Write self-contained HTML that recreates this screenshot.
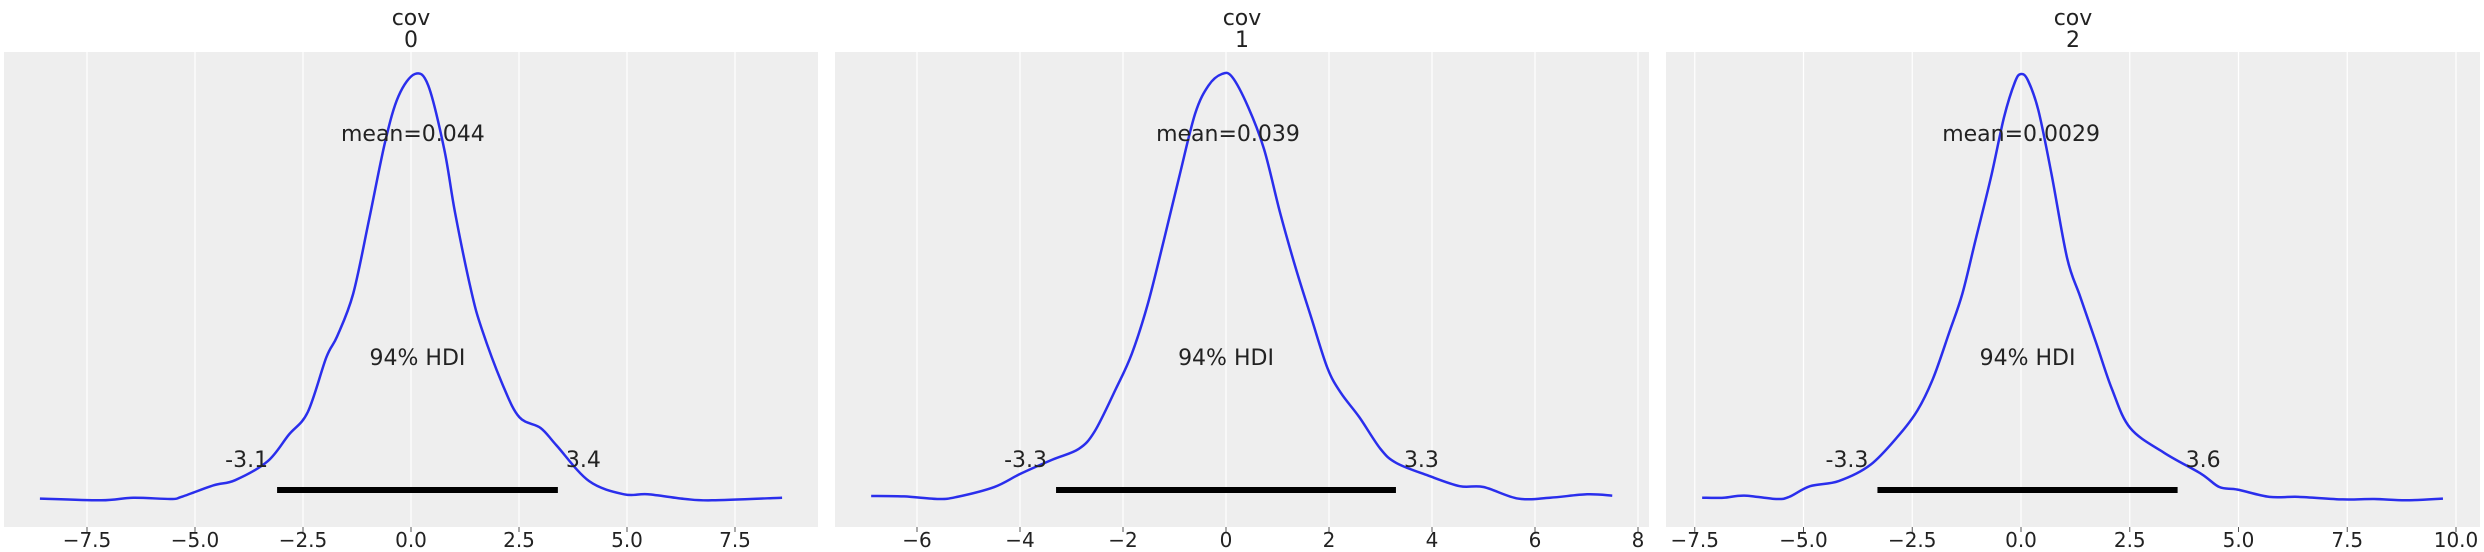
<!DOCTYPE html>
<html><head><meta charset="utf-8">
<style>
html,body{margin:0;padding:0;background:#fff;}
svg{display:block;font-family:"DejaVu Sans","Liberation Sans",sans-serif;}
</style></head>
<body>
<svg id="chart" width="2484" height="552" viewBox="0 0 2484 552" xmlns="http://www.w3.org/2000/svg"></svg>
<script>
// Panel 0 data
const p0X = [-8.59,-7.17,-6.43,-5.56,-5.31,-4.57,-4.07,-3.32,-2.83,-2.39,-1.96,-1.71,-1.34,-0.97,-0.60,-0.29,0.09,0.40,0.77,1.02,1.39,1.64,2.13,2.51,3.00,3.37,4.12,4.93,5.48,6.35,6.97,8.59];
const p0D = [0.008,0.004,0.010,0.007,0.012,0.039,0.051,0.095,0.157,0.210,0.338,0.387,0.486,0.660,0.841,0.948,1.0,0.973,0.824,0.676,0.495,0.404,0.272,0.198,0.173,0.132,0.049,0.018,0.018,0.007,0.004,0.010];
// Panel 1 data
const p1X = [-6.89,-6.25,-5.58,-5.22,-4.50,-3.99,-3.37,-2.86,-2.55,-2.14,-1.83,-1.52,-1.21,-0.91,-0.60,-0.34,-0.08,0.12,0.43,0.74,1.05,1.36,1.66,1.97,2.23,2.59,3.00,3.31,3.92,4.54,5.00,5.67,6.29,7.01,7.50];
const p1D = [0.014,0.013,0.007,0.012,0.035,0.066,0.099,0.124,0.165,0.264,0.346,0.462,0.610,0.759,0.907,0.973,1.0,0.993,0.923,0.824,0.676,0.544,0.429,0.313,0.255,0.198,0.124,0.091,0.062,0.037,0.035,0.008,0.010,0.018,0.015];
// Panel 2 data
const p2X = [-7.33,-6.84,-6.36,-5.63,-5.33,-4.85,-4.19,-3.46,-2.80,-2.38,-2.02,-1.65,-1.35,-1.05,-0.69,-0.39,-0.14,0,0.16,0.40,0.70,1.06,1.36,1.73,2.09,2.51,3.29,4.14,4.56,4.98,5.71,6.38,7.40,8.12,8.85,9.70];
const p2D = [0.010,0.010,0.015,0.007,0.012,0.037,0.049,0.087,0.157,0.214,0.289,0.396,0.486,0.610,0.759,0.899,0.981,1.0,0.985,0.915,0.767,0.570,0.480,0.371,0.264,0.173,0.115,0.066,0.035,0.029,0.012,0.012,0.006,0.007,0.004,0.008];
const titles = ["0","1","2"];
const means = [0.044, 0.039, 0.0029];
const meanLabels = ["mean=0.044","mean=0.039","mean=0.0029"];
const hdiLo = [-3.1, -3.3, -3.3];
const hdiHi = [3.4, 3.3, 3.6];
const ticks0 = [-7.5,-5.0,-2.5,0.0,2.5,5.0,7.5];
const ticks1 = [-6,-4,-2,0,2,4,6,8];
const ticks2 = [-7.5,-5.0,-2.5,0.0,2.5,5.0,7.5,10.0];
const tickLabels0 = ["\u22127.5","\u22125.0","\u22122.5","0.0","2.5","5.0","7.5"];
const tickLabels1 = ["\u22126","\u22124","\u22122","0","2","4","6","8"];
const tickLabels2 = ["\u22127.5","\u22125.0","\u22122.5","0.0","2.5","5.0","7.5","10.0"];

const NS = "http://www.w3.org/2000/svg";
const svgEl = document.getElementById("chart");
function mk(tag, attrs, parent){
  const e = document.createElementNS(NS, tag);
  for (const k in attrs) e.setAttribute(k, attrs[k]);
  (parent||svgEl).appendChild(e);
  return e;
}
const panels = [
  {left:4, right:818, zero:411, ppu:43.2, xs:p0X, ds:p0D, ticks:ticks0, tl:tickLabels0},
  {left:835, right:1649, zero:1226, ppu:51.5, xs:p1X, ds:p1D, ticks:ticks1, tl:tickLabels1},
  {left:1666, right:2480, zero:2021, ppu:43.5, xs:p2X, ds:p2D, ticks:ticks2, tl:tickLabels2}
];
const plotTop = 52, plotBottom = 527, yZero = 502, yScale = 428, barY = 490;
panels.forEach((p, i) => {
  const xScale = v => p.zero + v * p.ppu;
  const yAxis = d => yZero - d * yScale;
  const g = mk("g", {});
  
  
  const bg = mk("rect", {x:p.left, y:plotTop, width:p.right-p.left, height:plotBottom-plotTop, fill:"#eeeeee"}, g);
  
  
  p.ticks.forEach((t, j) => {
    const x = xScale(t);
    const gl = mk("line", {x1:x, x2:x, y1:plotTop, y2:plotBottom, stroke:"#ffffff", "stroke-width":1.2}, g);
    
    
    const tm = mk("line", {x1:x, x2:x, y1:plotBottom, y2:plotBottom+5, stroke:"#555", "stroke-width":1}, g);
    
    
    const lb = mk("text", {x:x, y:547, "text-anchor":"middle", "font-size":20, fill:"#222"}, g);
    lb.textContent = p.tl[j];
    
    
  });
  let dpath = "";
  p.xs.forEach((x, j) => {
    const cx = xScale(x), cy = yAxis(p.ds[j]);
    if (j === 0) { dpath += "M" + cx + "," + cy; }
    else {
      const px = xScale(p.xs[j-1]), py = yAxis(p.ds[j-1]);
      const ppx = j>1 ? xScale(p.xs[j-2]) : px, ppy = j>1 ? yAxis(p.ds[j-2]) : py;
      const nx = j<p.xs.length-1 ? xScale(p.xs[j+1]) : cx, ny = j<p.xs.length-1 ? yAxis(p.ds[j+1]) : cy;
      const c1x = px + (cx-ppx)/6, c1y = py + (cy-ppy)/6;
      const c2x = cx - (nx-px)/6, c2y = cy - (ny-py)/6;
      dpath += " C" + c1x + "," + c1y + " " + c2x + "," + c2y + " " + cx + "," + cy;
    }
  });
  const curve = mk("path", {d:dpath, fill:"none", stroke:"#2a2eec", "stroke-width":2.5}, g);
  
  
  const bar = mk("line", {x1:xScale(hdiLo[i]), x2:xScale(hdiHi[i]), y1:barY, y2:barY, stroke:"#000", "stroke-width":6}, g);
  
  
  const lo = mk("text", {x:xScale(hdiLo[i])-9, y:467, "text-anchor":"end", "font-size":22, fill:"#222"}, g);
  lo.textContent = String(hdiLo[i]);
  
  
  const hi = mk("text", {x:xScale(hdiHi[i])+8, y:467, "text-anchor":"start", "font-size":22, fill:"#222"}, g);
  hi.textContent = String(hdiHi[i]);
  
  
  const hl = mk("text", {x:xScale((hdiLo[i]+hdiHi[i])/2), y:365, "text-anchor":"middle", "font-size":22, fill:"#222"}, g);
  hl.textContent = "94% HDI";
  
  
  const ml = mk("text", {x:xScale(means[i]), y:141, "text-anchor":"middle", "font-size":22, fill:"#222"}, g);
  ml.textContent = meanLabels[i];
  
  
  const cx = (p.left+p.right)/2;
  const t1 = mk("text", {x:cx, y:25, "text-anchor":"middle", "font-size":22, fill:"#222"}, g);
  t1.textContent = "cov";
  
  
  const t2 = mk("text", {x:cx, y:47, "text-anchor":"middle", "font-size":22, fill:"#222"}, g);
  t2.textContent = titles[i];
  
  
});
</script>
</body></html>
